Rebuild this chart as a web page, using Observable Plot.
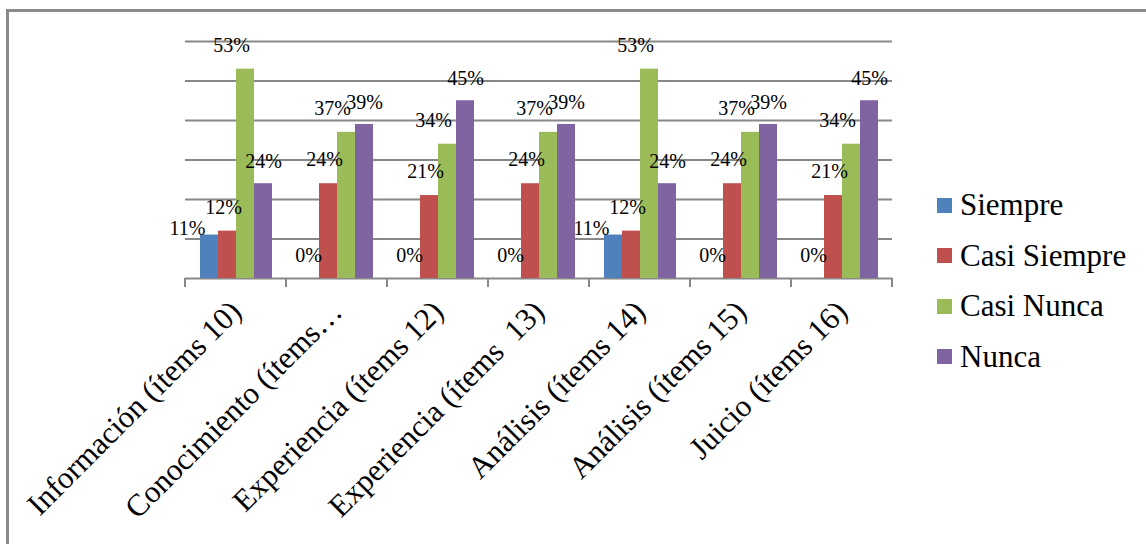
<!DOCTYPE html>
<html>
<head>
<meta charset="utf-8">
<script src="https://cdn.jsdelivr.net/npm/d3@7"></script>
<script src="https://cdn.jsdelivr.net/npm/@observablehq/plot@0.6"></script>
<style>
  html, body { margin: 0; padding: 0; background: #fff; width: 1146px; height: 544px; overflow: hidden; }
  #wrap { position: relative; width: 1146px; height: 544px; }
  #border { position: absolute; left: 6px; top: 9px; width: 1160px; height: 560px;
            border-top: 3px solid #8a8a8a; border-left: 3px solid #8a8a8a; }
  #chart { position: absolute; left: 0; top: 0; }
  #chart svg text { font-family: 'Liberation Serif', 'Times New Roman', serif !important; }
  #legend { position: absolute; left: 937px; top: 180px; font-family: 'Liberation Serif', 'Times New Roman', serif;
            font-size: 31px; color: #000; }
  .row { display: flex; align-items: center; height: 50.5px; }
  .sw { width: 15px; height: 15px; margin-right: 8px; }
</style>
</head>
<body>
<div id="wrap">
  <div id="border"></div>
  <div id="chart"></div>
  <div id="legend"></div>
</div>
<script>
const categories = [
  "Información (ítems 10)",
  "Conocimiento (ítems…",
  "Experiencia (ítems 12)",
  "Experiencia (ítems  13)",
  "Análisis (ítems 14)",
  "Análisis (ítems 15)",
  "Juicio (ítems 16)"
];
const seriesNames = ["Siempre", "Casi Siempre", "Casi Nunca", "Nunca"];
const seriesColors = ["#4F81BD", "#C0504D", "#9BBB59", "#8064A2"];
const siempre     = [11, 0, 0, 0, 11, 0, 0];
const casiSiempre = [12, 24, 21, 24, 12, 24, 21];
const casiNunca   = [53, 37, 34, 37, 53, 37, 34];
const nunca       = [24, 39, 45, 39, 24, 39, 45];
const yTicks = [0, 10, 20, 30, 40, 50, 60];

const seriesValues = [siempre, casiSiempre, casiNunca, nunca];
const data = [];
categories.forEach((c, i) => {
  seriesNames.forEach((s, j) => {
    data.push({category: c, series: s, value: seriesValues[j][i]});
  });
});

const font = "'Liberation Serif', 'Times New Roman', serif";

// label groups with their nudges (style only)
const labelGroups = [
  {filter: d => d.series === "Siempre" && d.value > 0, dx: -22, dy: -6},
  {filter: d => d.series === "Siempre" && d.value === 0, dx: -2, dy: -23},
  {filter: d => d.series === "Casi Siempre", dx: -4, dy: -24},
  {filter: d => d.series === "Casi Nunca", dx: -14, dy: -24},
  {filter: d => d.series === "Nunca", dx: 0, dy: -22}
];

const chart = Plot.plot({
  width: 1146,
  height: 544,
  marginLeft: 184,
  marginRight: 253,
  marginTop: 41,
  marginBottom: 266,
  style: {fontFamily: font, background: "transparent", overflow: "visible"},
  fx: {domain: categories, padding: 0, label: null, axis: null},
  x: {domain: seriesNames, paddingInner: 0, paddingOuter: 0.73, axis: null},
  y: {domain: [0, 60], axis: null},
  color: {domain: seriesNames, range: seriesColors},
  marks: [
    Plot.ruleY(yTicks, {stroke: "#888", strokeWidth: 2, strokeOpacity: 1}),
    Plot.barY(data, {fx: "category", x: "series", y: "value", fill: "series"}),
    ...labelGroups.map(g => Plot.text(data.filter(g.filter), {
      fx: "category", x: "series", y: "value",
      text: d => d.value + "%",
      dx: g.dx, dy: g.dy,
      fontSize: 20, fill: "#000", fontFamily: font
    })),
    Plot.axisFx({
      anchor: "bottom",
      tickRotate: -45, tickSize: 0, tickPadding: 28, fontSize: 31, fontFamily: font,
      fill: "#000", label: null
    })
  ]
});
document.getElementById("chart").appendChild(chart);

// boundary tick marks on the category axis, from the fx scale
const fx = chart.scale("fx");
const yScale = chart.scale("y");
const svg = d3.select(chart);
const y0 = yScale.apply(0);
const edges = fx.domain.map(d => fx.apply(d));
edges.push(fx.apply(fx.domain[fx.domain.length - 1]) + fx.bandwidth);
svg.append("g")
  .selectAll("line")
  .data(edges)
  .join("line")
  .attr("x1", d => d).attr("x2", d => d)
  .attr("y1", y0).attr("y2", y0 + 9)
  .attr("stroke", "#888").attr("stroke-width", 2);

// serif text, preserve double spaces
svg.selectAll("text").attr("font-family", font).attr("xml:space", "preserve").style("white-space", "pre");

// legend
const legend = d3.select("#legend");
seriesNames.forEach((s, i) => {
  const row = legend.append("div").attr("class", "row");
  row.append("div").attr("class", "sw").style("background", seriesColors[i]);
  row.append("span").text(s);
});
</script>
</body>
</html>
